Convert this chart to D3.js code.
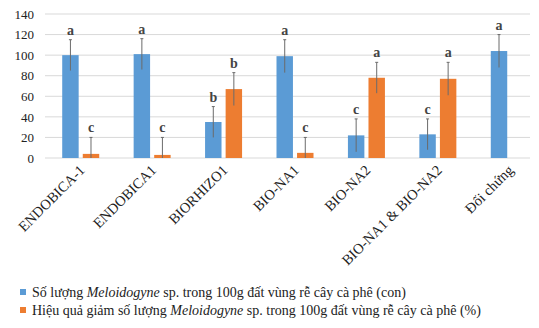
<!DOCTYPE html>
<html>
<head>
<meta charset="utf-8">
<script src="https://cdn.jsdelivr.net/npm/d3@7"></script>
<style>
  body { margin: 0; background: #fff; }
  svg text { font-family: "Liberation Serif", "Times New Roman", serif; fill: #222; }
</style>
</head>
<body>
<div id="chart"></div>
<script>
// data
const categories = ["ENDOBICA-1", "ENDOBICA1", "BIORHIZO1", "BIO-NA1", "BIO-NA2", "BIO-NA1 & BIO-NA2", "Đối chứng"];
const countValues = [100, 101, 35, 99, 22, 23, 104];
const countErrors = [15, 15, 15, 16, 16, 15, 16];
const countLetters = ["a", "a", "b", "a", "c", "c", "a"];
const effectValues = [4, 3, 67, 5, 78, 77, null];
const effectErrors = [16, 17, 16, 15, 15, 16, null];
const effectLetters = ["c", "c", "b", "c", "a", "a", null];
const yTicks = [0, 20, 40, 60, 80, 100, 120, 140];
const seriesNames = ["count", "effect"];

const width = 539, height = 328;
const svg = d3.select("#chart").append("svg")
    .attr("width", width)
    .attr("height", height);

const y = d3.scaleLinear().domain([0, 140]).range([158, 14]);
const x0 = d3.scaleBand().domain(categories).range([45, 545]);
const x1 = d3.scaleBand().domain(seriesNames).range([-18.5, 18.5]).paddingInner(0.2);
const colors = { count: "#5b9bd5", effect: "#ed7d31" };

// gridlines
svg.append("g")
    .selectAll("line")
    .data(yTicks)
    .join("line")
    .attr("x1", 45)
    .attr("x2", 530)
    .attr("y1", d => y(d))
    .attr("y2", d => y(d))
    .attr("stroke", "#d9d9d9")
    .attr("stroke-width", 1);

// y axis labels
svg.append("g")
    .attr("transform", "translate(34,0)")
    .call(d3.axisLeft(y).tickValues(yTicks).tickSize(0).tickPadding(0))
    .call(g => g.select(".domain").remove())
    .call(g => g.selectAll("text").style("font-size", "13px"));

// build rows per series
const rows = [];
categories.forEach((c, i) => {
    rows.push({ cat: c, s: "count", v: countValues[i], e: countErrors[i], l: countLetters[i] });
    if (effectValues[i] != null) {
        rows.push({ cat: c, s: "effect", v: effectValues[i], e: effectErrors[i], l: effectLetters[i] });
    }
});
const cx = d => x0(d.cat) + x0.bandwidth() / 2 + x1(d.s);

svg.append("g")
    .selectAll("rect")
    .data(rows)
    .join("rect")
    .attr("x", d => cx(d))
    .attr("width", x1.bandwidth())
    .attr("y", d => y(d.v))
    .attr("height", d => y(0) - y(d.v))
    .attr("fill", d => colors[d.s]);

// error bars
const err = svg.append("g")
    .selectAll("g")
    .data(rows)
    .join("g")
    .attr("transform", d => "translate(" + (cx(d) + x1.bandwidth() / 2) + ",0)");
err.append("line")
    .attr("y1", d => y(Math.max(0, d.v - d.e)))
    .attr("y2", d => y(d.v + d.e))
    .attr("stroke", "#6b6b6b")
    .attr("stroke-width", 1);
err.append("line")
    .attr("x1", -1.5).attr("x2", 1.5)
    .attr("y1", d => y(d.v + d.e))
    .attr("y2", d => y(d.v + d.e))
    .attr("stroke", "#6b6b6b");
err.append("text")
    .attr("y", d => y(d.v + d.e) - 5)
    .attr("text-anchor", "middle")
    .style("font-size", "14px")
    .style("font-weight", "bold")
    .style("fill", "#444")
    .text(d => d.l);

// x labels
svg.append("g")
    .selectAll("text")
    .data(categories)
    .join("text")
    .attr("transform", d => "translate(" + (x0(d) + x0.bandwidth() / 2 + 5) + ",171) rotate(-45)")
    .attr("text-anchor", "end")
    .style("font-size", "14.5px")
    .text(d => d);

// legend
const legendItems = [
    { s: "count", pre: "Số lượng ", it: "Meloidogyne", post: " sp. trong 100g đất vùng rễ cây cà phê (con)" },
    { s: "effect", pre: "Hiệu quả giảm số lượng ", it: "Meloidogyne", post: " sp. trong 100g đất vùng rễ cây cà phê (%)" }
];
const leg = svg.append("g")
    .selectAll("g")
    .data(legendItems)
    .join("g")
    .attr("transform", (d, i) => "translate(20," + (293 + i * 18) + ")");
leg.append("rect")
    .attr("x", 0).attr("y", -4)
    .attr("width", 6).attr("height", 6)
    .attr("fill", d => colors[d.s]);
const lt = leg.append("text")
    .attr("x", 12)
    .attr("y", 0)
    .attr("dy", "0.32em")
    .style("font-size", "14px");
lt.append("tspan").text(d => d.pre);
lt.append("tspan").style("font-style", "italic").text(d => d.it);
lt.append("tspan").text(d => d.post);
</script>
</body>
</html>
